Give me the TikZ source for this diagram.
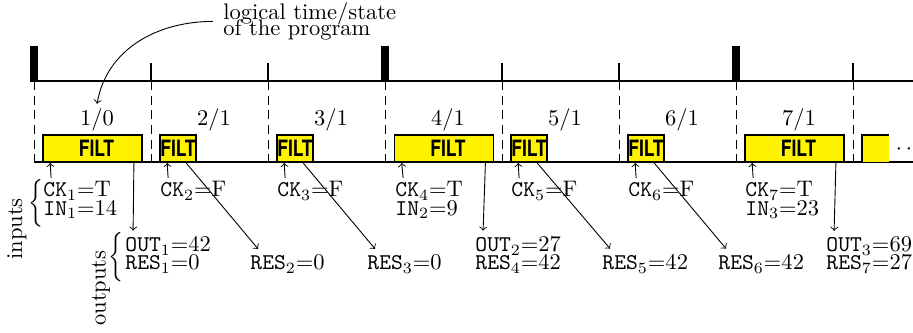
\documentclass[tikz,border=0pt]{standalone}
\usepackage{fontspec}
\newfontfamily\filtfont{TeX Gyre Heros}
\newcommand{\filttext}{\scalebox{0.78}[1]{\filtfont\bfseries FILT}}
\begin{document}
\begin{tikzpicture}[x=0.4444pt,y=-0.4444pt,
  tline/.style={line width=0.8pt},
  dashline/.style={line width=0.4pt, dash pattern=on 4pt off 2.5pt},
  filtbox/.style={draw=black, fill=yellow, line width=0.8pt, inner sep=0pt, minimum height=12pt},
  longbox/.style={filtbox, minimum width=44pt},
  shortbox/.style={filtbox, minimum width=16pt},
  filt/.style={inner sep=0pt},
  lbl/.style={inner sep=0pt, anchor=base west},
  tlab/.style={inner sep=0pt},
  brc/.style={inner sep=0pt},
  arr/.style={->, line width=0.4pt},
]
\useasboundingbox (0,0) rectangle (913,333);

% time lines
\draw[tline] (30,81) -- (913,81);
\draw[tline] (34,162) -- (913,162);
% ticks
\foreach \x in {34,385,736} \fill ({\x-4},46) rectangle ({\x+4},81);
\foreach \x in {151,268,502,619,853} \fill ({\x-1.3},63) rectangle ({\x+1.3},81);
% dashed separators
\foreach \j in {0,...,7} \draw[dashline] ({34+117*\j},81) -- ({34+117*\j},162);

% state labels
\node[tlab] (lab1) at (97,120) {1/0};
\node[tlab] (lab2) at (214,120) {2/1};
\node[tlab] (lab3) at (331,120) {3/1};
\node[tlab] (lab4) at (448,120) {4/1};
\node[tlab] (lab5) at (565,120) {5/1};
\node[tlab] (lab6) at (682,120) {6/1};
\node[tlab] (lab7) at (799,120) {7/1};

% boxes
\node[longbox] (b1) at (92.5,148.5) {};
\node[shortbox] (b2) at (178,148.5) {};
\node[shortbox] (b3) at (295,148.5) {};
\node[longbox] (b4) at (444,148.5) {};
\node[shortbox] (b5) at (529,148.5) {};
\node[shortbox] (b6) at (646,148.5) {};
\node[longbox] (b7) at (794.5,148.5) {};
\fill[yellow] (862,135) rectangle (889,162);
\draw[line width=0.8pt] (862,162) -- (862,135) -- (889,135);
\node[inner sep=0pt] (dots) at (904,149) {$\cdot\,\cdot$};

\node[filt] (f1) at (96.5,148.5) {\filttext};
\node[filt] (f2) at (b2.center) {\filttext};
\node[filt] (f3) at (b3.center) {\filttext};
\node[filt] (f4) at (448,148.5) {\filttext};
\node[filt] (f5) at (b5.center) {\filttext};
\node[filt] (f6) at (b6.center) {\filttext};
\node[filt] (f7) at (798.5,148.5) {\filttext};

% inputs
\node[lbl] (ck1) at (43,197) {\texttt{CK}$_1$=T};
\node[lbl] (in1) at (43,215) {\texttt{IN}$_1$=14};
\node[lbl] (ck2) at (160,197) {\texttt{CK}$_2$=F};
\node[lbl] (ck3) at (277,197) {\texttt{CK}$_3$=F};
\node[lbl] (ck4) at (395,197) {\texttt{CK}$_4$=T};
\node[lbl] (in2) at (395,215) {\texttt{IN}$_2$=9};
\node[lbl] (ck5) at (511,197) {\texttt{CK}$_5$=F};
\node[lbl] (ck6) at (628,197) {\texttt{CK}$_6$=F};
\node[lbl] (ck7) at (745,197) {\texttt{CK}$_7$=T};
\node[lbl] (in3) at (745,215) {\texttt{IN}$_3$=23};
\foreach \k in {1,...,7}
  \draw[arr] ([shift={(3.6pt,1.5pt)}]ck\k.north west) -- ([xshift=3.6pt]b\k.south west);

% outputs
\node[lbl] (out1) at (125,252) {\texttt{OUT}$_1$=42};
\node[lbl] (res1) at (125,270) {\texttt{RES}$_1$=0};
\node[lbl] (res2) at (250,270) {\texttt{RES}$_2$=0};
\node[lbl] (res3) at (367,270) {\texttt{RES}$_3$=0};
\node[lbl] (out2) at (475,252) {\texttt{OUT}$_2$=27};
\node[lbl] (res4) at (475,270) {\texttt{RES}$_4$=42};
\node[lbl] (res5) at (602,270) {\texttt{RES}$_5$=42};
\node[lbl] (res6) at (718,270) {\texttt{RES}$_6$=42};
\node[lbl] (out3) at (826,252) {\texttt{OUT}$_3$=69};
\node[lbl] (res7) at (826,270) {\texttt{RES}$_7$=27};

\draw[arr] ([xshift=-4pt]b1.south east) -- ([shift={(3.6pt,2.5pt)}]out1.north west);
\draw[arr] ([xshift=-4pt]b4.south east) -- ([shift={(3.6pt,2.5pt)}]out2.north west);
\draw[arr] ([xshift=-4pt]b7.south east) -- ([shift={(3.6pt,2.5pt)}]out3.north west);
\draw[arr] ([xshift=12pt]b2.south west) -- ([shift={(3.6pt,2.5pt)}]res2.north west);
\draw[arr] ([xshift=12pt]b3.south west) -- ([shift={(3.6pt,2.5pt)}]res3.north west);
\draw[arr] ([xshift=12pt]b5.south west) -- ([shift={(3.6pt,2.5pt)}]res5.north west);
\draw[arr] ([xshift=12pt]b6.south west) -- ([shift={(3.6pt,2.5pt)}]res6.north west);

% braces and group labels
\node[brc] (bri) at (36,203) {\scalebox{1}[1.18]{$\Big\{$}};
\node[brc] (bro) at (115.5,257) {\scalebox{1}[1.22]{$\Big\{$}};
\node[rotate=90, inner sep=0pt] (inlab) at (17,229) {inputs};
\node[rotate=90, inner sep=0pt] (outlab) at (101,288) {outputs};

% annotation
\node[align=left, anchor=north west, inner sep=0pt] (note) at (223,2) {logical time/state\\[-4.7pt]of the program};
\draw[arr] ([xshift=-4.5pt]note.west) to[out=180,in=80] ([yshift=2pt]lab1.north);
\end{tikzpicture}
\end{document}
